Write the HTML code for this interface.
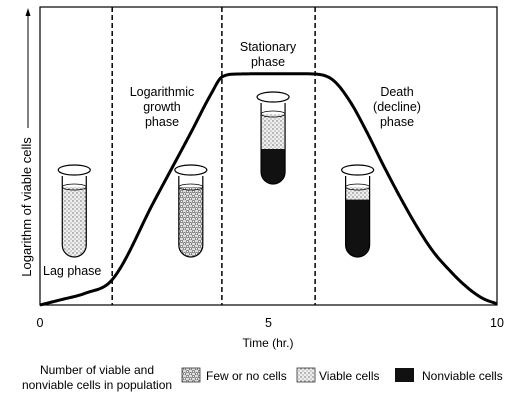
<!DOCTYPE html>
<html><head><meta charset="utf-8"><style>
body{margin:0;background:#fff;}
svg{display:block;font-family:"Liberation Sans",sans-serif;}
</style></head><body>
<svg width="518" height="400" viewBox="0 0 518 400">
<defs>
<pattern id="viable" width="4" height="4" patternUnits="userSpaceOnUse">
<rect width="4" height="4" fill="#eee"/><circle cx="1" cy="1" r="0.7" fill="#666"/><circle cx="3" cy="3" r="0.6" fill="#888"/>
</pattern>
<pattern id="few" width="6" height="5" patternUnits="userSpaceOnUse">
<rect width="6" height="5" fill="#ddd"/><circle cx="1.5" cy="1.5" r="1.2" fill="#fff" stroke="#555" stroke-width="0.6"/><circle cx="4.5" cy="3.8" r="1.2" fill="#fff" stroke="#555" stroke-width="0.6"/>
</pattern>
</defs>
<g id="plot"></g>
<line x1="28" y1="128" x2="28" y2="14" stroke="#000" stroke-width="1"/>
<polygon points="28,8 25.5,16 30.5,16" fill="#000"/>
<text transform="translate(31,207) rotate(-90)" text-anchor="middle" font-size="13">Logarithm of viable cells</text>
<text x="268" y="347" text-anchor="middle" font-size="12">Time (hr.)</text>
<text x="268" y="51" text-anchor="middle" font-size="12.5"><tspan x="268">Stationary</tspan><tspan x="268" dy="15">phase</tspan></text>
<text x="162" y="96" text-anchor="middle" font-size="12.5"><tspan x="162">Logarithmic</tspan><tspan x="162" dy="15">growth</tspan><tspan x="162" dy="15">phase</tspan></text>
<text x="397" y="96" text-anchor="middle" font-size="12.5"><tspan x="397">Death</tspan><tspan x="397" dy="15">(decline)</tspan><tspan x="397" dy="15">phase</tspan></text>
<text x="43" y="275" font-size="12.5">Lag phase</text>
<g>
<text x="97" y="374" text-anchor="middle" font-size="12"><tspan x="97">Number of viable and</tspan><tspan x="97" dy="15">nonviable cells in population</tspan></text>
<rect x="182" y="368" width="18" height="14" fill="url(#few)" stroke="#333" stroke-width="0.8"/>
<text x="206" y="380" font-size="12">Few or no cells</text>
<rect x="297" y="368" width="18" height="14" fill="url(#viable)" stroke="#333" stroke-width="0.8"/>
<text x="319" y="380" font-size="12">Viable cells</text>
<rect x="395" y="368" width="19" height="14" fill="#111"/>
<text x="422" y="380" font-size="12">Nonviable cells</text>
</g>
</svg>
<script>
const curveTimes=[0,0.44,1,1.58,2.5,3.3,3.75,3.98,4.3,5,5.7,6.02,6.41,6.78,7.16,7.51,7.88,8.25,8.6,8.97,9.34,9.69,10];
const curveValues=[0,0.017,0.04,0.085,0.349,0.578,0.71,0.765,0.775,0.776,0.776,0.775,0.755,0.684,0.578,0.47,0.362,0.262,0.18,0.115,0.06,0.022,0.004];
const phaseBoundaries=[1.58,3.98,6.02];
const xTicks=[0,5,10];
const tubeTimes=[0.75,3.3,5.1,6.95];
const tubeNonviable=[0,0,0.5,0.82];
const L=40,R=497,T=7,B=305;
const sx=t=>L+(t/10)*(R-L);
const sy=v=>B-v*(B-T);
const g=document.getElementById('plot');
const NS='http://www.w3.org/2000/svg';
function mk(tag,attrs){const e=document.createElementNS(NS,tag);for(const k in attrs)e.setAttribute(k,attrs[k]);g.appendChild(e);return e;}
const frame=mk('rect',{x:L,y:T,width:R-L,height:B-T,fill:'none',stroke:'#000','stroke-width':1.2});


phaseBoundaries.forEach(b=>{const l=mk('line',{x1:sx(b),x2:sx(b),y1:T,y2:B,stroke:'#000','stroke-width':1.5,'stroke-dasharray':'5,3'});

});
xTicks.forEach(t=>{const tx=mk('text',{x:sx(t),y:327,'text-anchor':'middle','font-size':12.5});tx.textContent=t;

});
function monotone(xs,ys){const n=xs.length,dl=[],m=[];
for(let i=0;i<n-1;i++)dl.push((ys[i+1]-ys[i])/(xs[i+1]-xs[i]));
m[0]=dl[0];m[n-1]=dl[n-2];
for(let i=1;i<n-1;i++){m[i]=(dl[i-1]*dl[i]<=0)?0:(dl[i-1]+dl[i])/2;}
for(let i=0;i<n-1;i++){if(dl[i]===0){m[i]=0;m[i+1]=0;continue;}const a=m[i]/dl[i],b=m[i+1]/dl[i],s=a*a+b*b;if(s>9){const t=3/Math.sqrt(s);m[i]=t*a*dl[i];m[i+1]=t*b*dl[i];}}
return x=>{let i=0;while(i<n-2&&x>xs[i+1])i++;const h=xs[i+1]-xs[i],t=(x-xs[i])/h,t2=t*t,t3=t2*t;
return (2*t3-3*t2+1)*ys[i]+(t3-2*t2+t)*h*m[i]+(-2*t3+3*t2)*ys[i+1]+(t3-t2)*h*m[i+1];};}
const f=monotone(curveTimes,curveValues);
let d='';
for(let k=0;k<=400;k++){const t=curveTimes[0]+(curveTimes[curveTimes.length-1]-curveTimes[0])*k/400;d+=(k?' L':'M')+sx(t).toFixed(2)+','+sy(f(t)).toFixed(2);}
const c=mk('path',{d:d,fill:'none',stroke:'#000','stroke-width':3,'stroke-linejoin':'round'});


const tubeRim=[170,170,97,170];
tubeTimes.forEach((t,i)=>{const cx=sx(t),top=tubeRim[i],w=24,h=87,bot=top+h,r=w/2;
const ytop=top+17, yBlack=ytop+(1-tubeNonviable[i])*(bot-ytop);
const clipId='tc'+i;
const cp=mk('clipPath',{id:clipId});
const cpp=document.createElementNS(NS,'path');cpp.setAttribute('d',`M${cx-r},${top+6} V${bot-r} A${r},${r} 0 0 0 ${cx+r},${bot-r} V${top+6} Z`);cp.appendChild(cpp);
const fillPat=i===1?'url(#few)':'url(#viable)';
const liq=mk('rect',{x:cx-r,y:ytop,width:w,height:bot-ytop,fill:fillPat,'clip-path':`url(#${clipId})`});


if(tubeNonviable[i]>0){const bk=mk('rect',{x:cx-r,y:yBlack,width:w,height:bot-yBlack,fill:'#111','clip-path':`url(#${clipId})`});

}
const out=mk('path',{d:`M${cx-r},${top+6} V${bot-r} A${r},${r} 0 0 0 ${cx+r},${bot-r} V${top+6}`,fill:'none',stroke:'#000','stroke-width':1.2});


const surf=mk('ellipse',{cx:cx,cy:ytop,rx:r,ry:3,fill:'none',stroke:'#000','stroke-width':0.8});


const rim=mk('ellipse',{cx:cx,cy:top,rx:r+4,ry:5,fill:'#fff',stroke:'#000','stroke-width':1.2});

});
</script>
</body></html>
